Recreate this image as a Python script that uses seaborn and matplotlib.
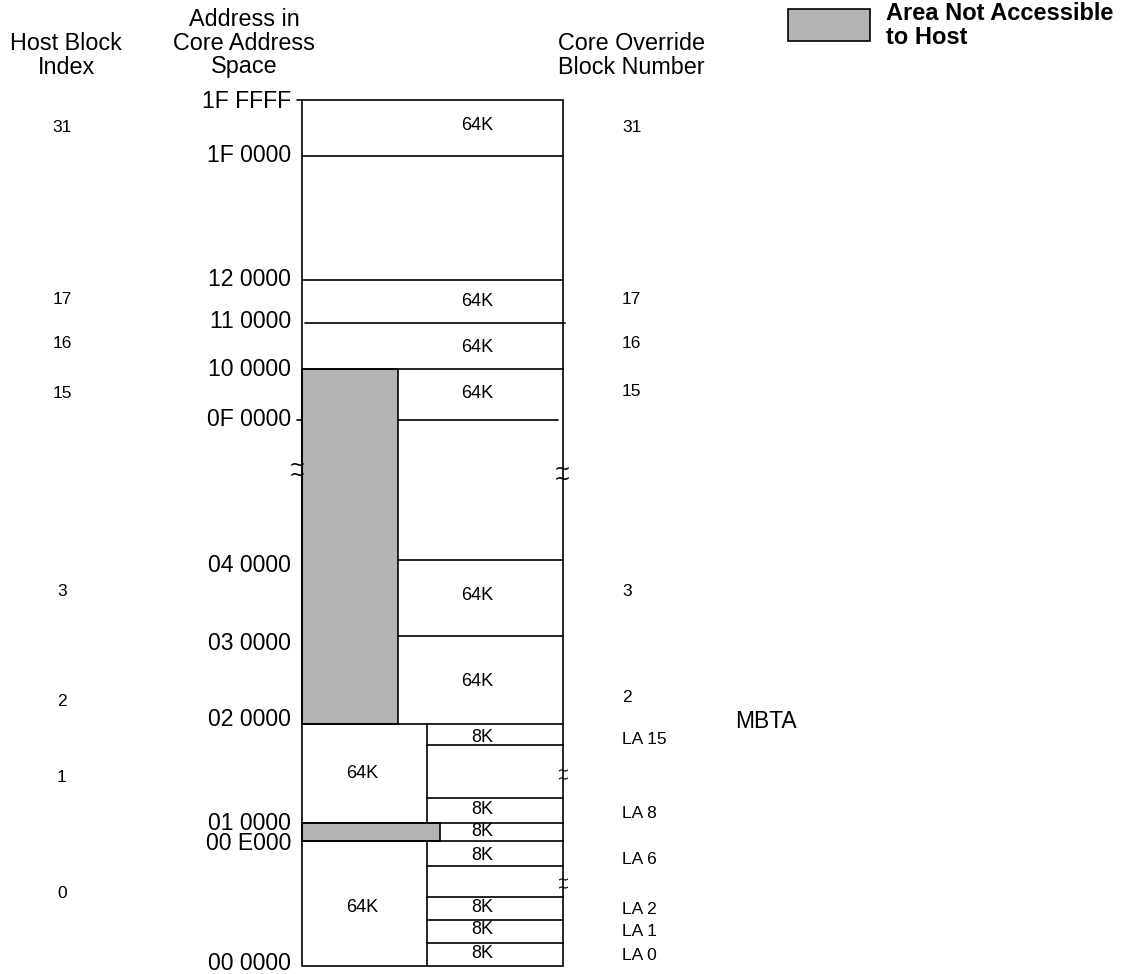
import matplotlib
matplotlib.use("Agg")
import matplotlib.pyplot as plt
import matplotlib.patches as mpatches
import seaborn as sns

# memory map diagram - canvas is in pixel units (y goes down)
sns.set_style("white")
plt.rcParams['font.family'] = ['Liberation Sans', 'DejaVu Sans']
plt.rcParams['text.color'] = 'black'

# address labels on the left of the map and where they sit
addr_labels = ["1F FFFF", "1F 0000", "12 0000", "11 0000", "10 0000", "0F 0000",
               "04 0000", "03 0000", "02 0000", "01 0000", "00 E000", "00 0000"]
addr_y = [102, 156, 280, 321, 369, 420, 566, 643, 720, 824, 843, 964]

# host block index column
host_idx = ["31", "17", "16", "15", "3", "2", "1", "0"]
host_y = [128, 300, 343, 393, 591, 702, 778, 893]

# core override block number column
core_blk = ["31", "17", "16", "15", "3", "2", "LA 15", "LA 8", "LA 6", "LA 2", "LA 1", "LA 0"]
core_y = [128, 300, 343, 392, 591, 697, 740, 813, 860, 910, 931, 955]

# block size labels
big_x = [477, 477, 477, 477, 477, 477, 362, 362]
big_y = [126, 302, 347, 393, 596, 681, 774, 907]
small_y = [737, 809, 832, 856, 908, 930, 953]

# map geometry
box_l, box_r, box_t, box_b = 302, 563, 100, 966
gray_r = 398
split_x = 427
full_lines = [156, 280, 369, 724, 823, 841]
upper_lines = [(323, 305, 565), (420, 398, 558), (560, 398, 563), (636, 398, 563)]
small_lines = [745, 798, 866, 897, 920, 943]
breaks = [(297, 469, 5, 9), (562, 473, 5, 9), (563, 774, 4, 6.5), (563, 883, 4, 6.5)]

fig = plt.figure(figsize=(11.29, 9.74), dpi=100)
ax = fig.add_axes([0, 0, 1, 1])
ax.set_xlim(0, 1129)
ax.set_ylim(974, 0)
ax.axis("off")

lw = 1.2
gray = "#b3b3b3"

# shaded areas
ax.add_patch(mpatches.Rectangle((box_l, 369), gray_r - box_l, 724 - 369,
                                facecolor=gray, edgecolor="black", lw=lw, zorder=2))
ax.add_patch(mpatches.Rectangle((box_l, 823), 440 - box_l, 841 - 823,
                                facecolor=gray, edgecolor="black", lw=lw, zorder=2))
# outer box
ax.add_patch(mpatches.Rectangle((box_l, box_t), box_r - box_l, box_b - box_t,
                                facecolor="none", edgecolor="black", lw=lw, zorder=3))
for y in full_lines:
    ax.plot([box_l, box_r], [y, y], color="black", lw=lw, zorder=3)
for y, x0, x1 in upper_lines:
    ax.plot([x0, x1], [y, y], color="black", lw=lw, zorder=3)
for y in small_lines:
    ax.plot([split_x, box_r], [y, y], color="black", lw=lw, zorder=3)
ax.plot([split_x, split_x], [724, 823], color="black", lw=lw, zorder=3)
ax.plot([split_x, split_x], [841, box_b], color="black", lw=lw, zorder=3)
# little ticks
ax.plot([297, box_l], [box_t, box_t], color="black", lw=lw)
ax.plot([297, box_l], [420, 420], color="black", lw=lw)

# break marks: two stacked tildes
for x, y, d, ms in breaks:
    ax.plot([x, x], [y - d, y + d], linestyle="none", marker=r"$\sim$",
            markersize=ms, markeredgewidth=0, color="black", zorder=4)

# texts
for lab, y in zip(addr_labels, addr_y):
    ax.text(291, y, lab, fontsize=16.6, ha="right", va="center")
for lab, y in zip(host_idx, host_y):
    ax.text(62, y, lab, fontsize=12.5, ha="center", va="center")
for lab, y in zip(core_blk, core_y):
    ax.text(622, y, lab, fontsize=12.5, ha="left", va="center")
for x, y in zip(big_x, big_y):
    ax.text(x, y, "64K", fontsize=13, ha="center", va="center")
for y in small_y:
    ax.text(482, y, "8K", fontsize=13, ha="center", va="center")

ax.text(766, 721, "MBTA", fontsize=16.5, ha="center", va="center")

# headers
for txt, y in [("Host Block", 43), ("Index", 67)]:
    ax.text(66, y, txt, fontsize=16.8, ha="center", va="center")
for txt, y in [("Address in", 19), ("Core Address", 43), ("Space", 67)]:
    ax.text(244, y, txt, fontsize=16.8, ha="center", va="center")
for txt, y in [("Core Override", 43), ("Block Number", 67)]:
    ax.text(631, y, txt, fontsize=16.8, ha="center", va="center")

# legend
ax.add_patch(mpatches.Rectangle((788, 9), 82, 32, facecolor=gray, edgecolor="black", lw=lw))
ax.text(886, 14, "Area Not Accessible", fontsize=17, fontweight="bold", ha="left", va="center")
ax.text(886, 38, "to Host", fontsize=17, fontweight="bold", ha="left", va="center")

fig.savefig("out.png", dpi=100)
